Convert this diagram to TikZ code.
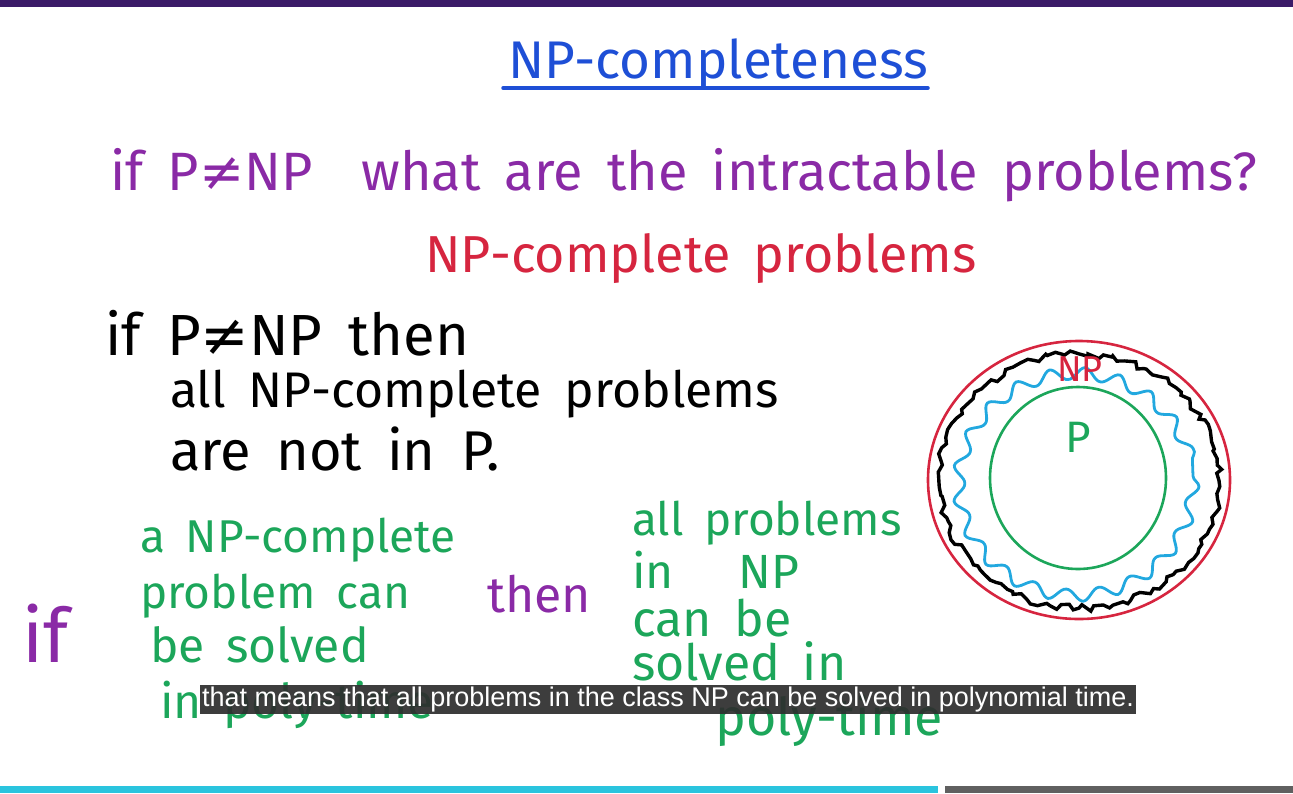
\documentclass[tikz,border=0pt]{standalone}
\usepackage{fontspec}
\usepackage{tikz}
\usetikzlibrary{decorations.pathmorphing,calc}
\newfontfamily\handfont{Fira Sans}
\newfontfamily\captfont{Liberation Sans}
\newfontfamily\symfont{DejaVu Sans}
\definecolor{hwpurple}{HTML}{8A2AA6}
\definecolor{hwblue}{HTML}{1E4FD6}
\definecolor{hwred}{HTML}{D6253F}
\definecolor{hwgreen}{HTML}{1CA65A}
\definecolor{hwcyan}{HTML}{22A8DF}
\definecolor{topbar}{HTML}{3B1B68}
\definecolor{botcyan}{HTML}{2AC4DE}
\definecolor{botgray}{HTML}{606060}
\definecolor{captbg}{HTML}{2E2E2E}
\newcommand{\neqsym}{{\symfont ≠}}
\newcommand{\hwsize}[1]{\handfont\fontsize{#1}{#1}\selectfont
  \spaceskip 0.45em plus 0pt minus 0pt\relax}
\tikzset{
  hw/.style={inner sep=0pt,anchor=base west,font={\hwsize{#1}}},
  hw/.default=40,
  setline/.style={line width=2.6pt},
  captbox/.style={fill=captbg,fill opacity=0.93,text opacity=1,text=white,
    inner xsep=2pt,inner ysep=0pt,minimum height=29pt,
    font=\captfont\fontsize{27}{27}\selectfont},
  ring/.style={line width=3.4pt,black,decorate,
    decoration={random steps,segment length=6pt,amplitude=3.5pt}},
  wave/.style={line width=2.8pt,hwcyan,decorate,
    decoration={snake,segment length=34pt,amplitude=6pt}},
}
\begin{document}
\begin{tikzpicture}[x=1pt,y=-1pt]
  \useasboundingbox (0,0) rectangle (1293,793);
  % bars
  \fill[topbar] (0,0) rectangle (1293,7);
  \fill[botcyan] (0,786) rectangle (938,793);
  \fill[botgray] (945,786) rectangle (1293,793);
  % title
  \node[hw=53,text=hwblue,anchor=base] (title) at (718,78) {NP-completeness};
  \coordinate (ulA) at (503,88);
  \coordinate (ulB) at (928,88);
  \draw[hwblue,line width=3.5pt,line cap=round] (ulA) -- (ulB);
  % question
  \node[hw=54,text=hwpurple] (quest) at (110,190)
    {if P\neqsym NP\ \ what are the intractable problems?};
  \node[hw=52,text=hwred] (npc) at (425,272) {NP-complete problems};
  % black statement
  \node[hw=58] (stA) at (105,355) {if P\neqsym NP then};
  \node[hw=50] (stB) at (170,407) {all NP-complete problems};
  \node[hw=56] (stC) at (170,470) {are not in P.};
  % conditional
  \node[hw=75,text=hwpurple] (ifw) at (22,662) {if};
  \node[hw=46,text=hwgreen] (lfA) at (140,552) {a NP-complete};
  \node[hw=46,text=hwgreen] (lfB) at (140,608) {problem can};
  \node[hw=48,text=hwgreen] (lfC) at (150,662) {be solved};
  \node[hw=48,text=hwgreen] (lfD) at (160,718) {in poly-time};
  \node[hw=50,text=hwpurple] (thenw) at (487,612) {then};
  \node[hw=46,text=hwgreen] (rtA) at (632,535) {all problems};
  \node[hw=48,text=hwgreen] (rtB) at (632,588) {in\ \ \ NP};
  \node[hw=50,text=hwgreen] (rtC) at (632,636) {can be};
  \node[hw=50,text=hwgreen] (rtD) at (632,680) {solved in};
  \node[hw=52,text=hwgreen] (rtE) at (715,735) {poly-time};
  % classes
  \pgfmathsetseed{7}
  \draw[setline,hwred] (1079,480) ellipse [x radius=151,y radius=139];
  \draw[ring] (1079,481) ellipse [x radius=140,y radius=127];
  \draw[wave] (1076,476) ellipse [x radius=117,y radius=111];
  \draw[setline,hwgreen] (1078,478) ellipse [x radius=88,y radius=91];
  \node[hw=36,text=hwred,anchor=base] (nplab) at (1080,381) {NP};
  \node[hw=44,text=hwgreen,anchor=base] (plab) at (1078,452) {P};
  % caption
  \node[captbox,anchor=west] (capt) at (200,699.5)
    {that means that all problems in the class NP can be solved in polynomial time.};
\end{tikzpicture}
\end{document}
